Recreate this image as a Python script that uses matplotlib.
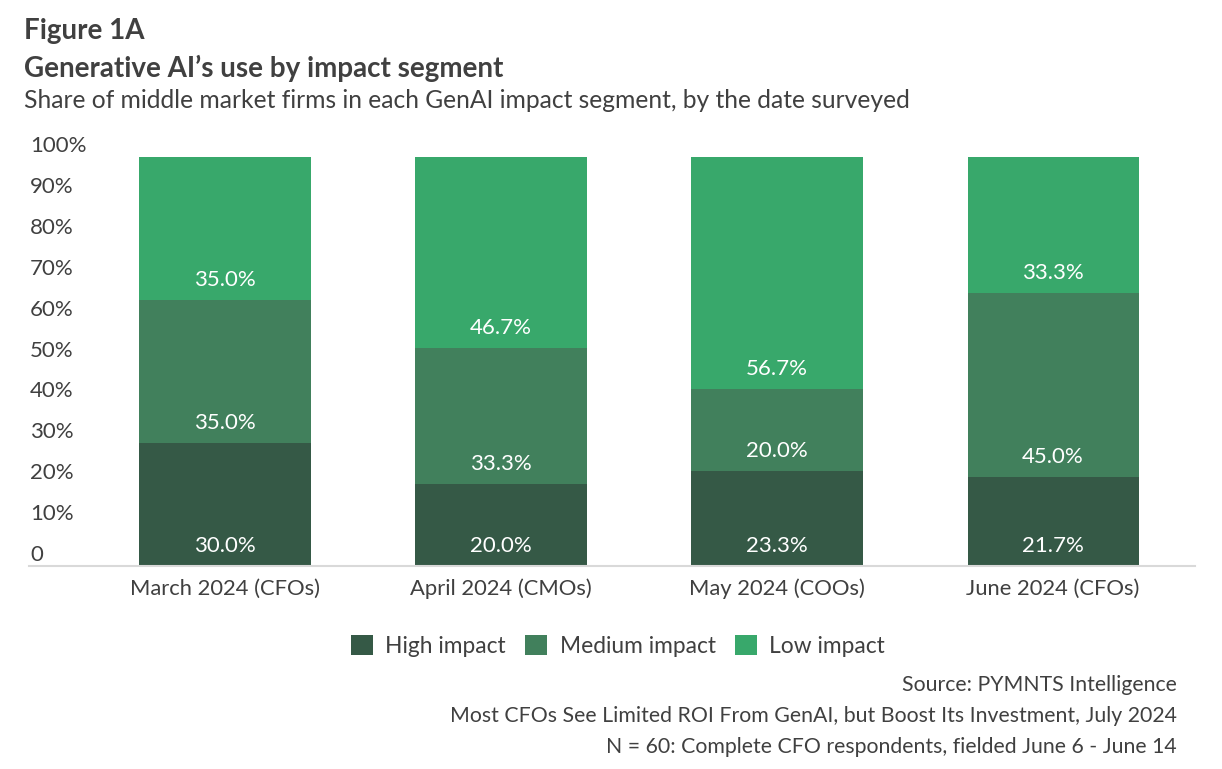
import matplotlib
matplotlib.use("Agg")
import matplotlib.pyplot as plt
import matplotlib.transforms as mtransforms
import numpy as np

plt.rcParams["font.family"] = ["Lato", "DejaVu Sans"]

# data
categories = ["March 2024 (CFOs)", "April 2024 (CMOs)", "May 2024 (COOs)", "June 2024 (CFOs)"]
high = [30.0, 20.0, 23.3, 21.7]
medium = [35.0, 33.3, 20.0, 45.0]
low = [35.0, 46.7, 56.7, 33.3]
series_names = ["High impact", "Medium impact", "Low impact"]
colors = ["#355946", "#41805c", "#38a86b"]
y_ticks = [0, 10, 20, 30, 40, 50, 60, 70, 80, 90, 100]
y_labels = ["0", "10%", "20%", "30%", "40%", "50%", "60%", "70%", "80%", "90%", "100%"]

text_col = "#404040"

fig = plt.figure(figsize=(12.22, 7.69), dpi=100)
ax = fig.add_axes([29 / 1222, 1 - 566 / 769, (1195 - 29) / 1222, (566 - 157) / 769])

x = np.arange(len(categories))
bottom = np.zeros(len(categories))
for vals, name, col in zip([high, medium, low], series_names, colors):
    ax.bar(x, vals, width=0.62, bottom=bottom, color=col, label=name)
    for xi, b, v in zip(x, bottom, vals):
        ax.text(xi, b + 4.9, f"{v:.1f}%", ha="center", va="center",
                color="white", fontsize=16)
    bottom = bottom + np.array(vals)

ax.set_xlim(-0.71, 3.514)
ax.set_ylim(0, 100)

for s in ["top", "right", "left"]:
    ax.spines[s].set_visible(False)
ax.spines["bottom"].set_color("#d9d9d9")
ax.spines["bottom"].set_linewidth(1.5)

ax.set_xticks(x)
ax.set_xticklabels(categories, fontsize=15.8, color=text_col)
ax.tick_params(axis="x", length=0, pad=9)

ax.set_yticks(y_ticks)
ax.set_yticklabels(y_labels, fontsize=16, color=text_col, ha="left")
ax.tick_params(axis="y", length=0, pad=0)
# labels sit a bit above their values in the original
offset = mtransforms.ScaledTranslation(0.01, 0.13, fig.dpi_scale_trans)
for lab in ax.get_yticklabels():
    lab.set_transform(lab.get_transform() + offset)

# titles
fig.text(24 / 1222, 1 - 31 / 769, "Figure 1A", fontsize=20, fontweight="bold",
         color=text_col, va="center")
fig.text(24 / 1222, 1 - 68 / 769, "Generative AI\u2019s use by impact segment", fontsize=20,
         fontweight="bold", color=text_col, va="center")
fig.text(24 / 1222, 1 - 101 / 769,
         "Share of middle market firms in each GenAI impact segment, by the date surveyed",
         fontsize=17.7, color=text_col, va="center")

fig.legend(loc="center", bbox_to_anchor=(618 / 1222, 1 - 646 / 769), ncol=3,
           frameon=False, fontsize=16.4, handlelength=0.95, handleheight=0.95,
           handletextpad=0.55, columnspacing=0.85, labelcolor=text_col)

footer = ["Source: PYMNTS Intelligence",
          "Most CFOs See Limited ROI From GenAI, but Boost Its Investment, July 2024",
          "N = 60: Complete CFO respondents, fielded June 6 - June 14"]
for i, line in enumerate(footer):
    fig.text(1177 / 1222, 1 - (685 + 31 * i) / 769, line, fontsize=15.3,
             color=text_col, ha="right", va="center")

fig.savefig("out.png", dpi=100)
